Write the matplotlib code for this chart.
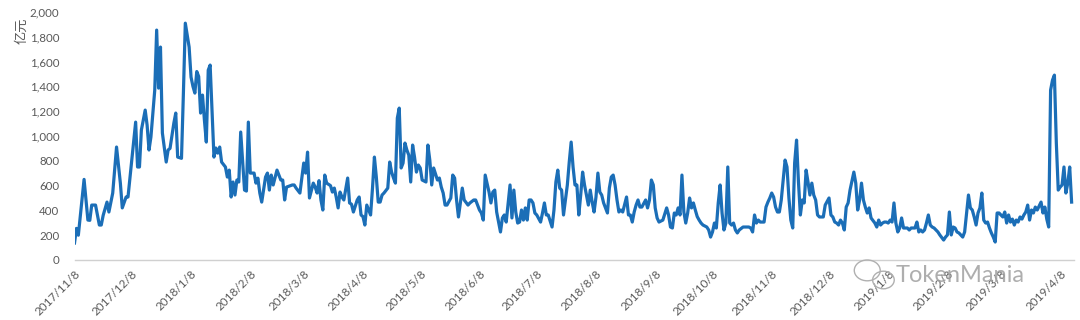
import datetime as dt
import matplotlib
matplotlib.use("Agg")
import matplotlib.pyplot as plt
import matplotlib.dates as mdates
from matplotlib.patches import Ellipse
from matplotlib.ticker import FuncFormatter

plt.rcParams['font.family'] = ['Lato', 'Noto Sans CJK SC', 'DejaVu Sans']

start_date = dt.date(2017, 11, 8)

# day offset from 2017/11/8 and daily trading volume (亿元)
day_offsets = [
    0, 1, 2, 5, 7, 8, 9, 11, 13, 14, 15, 17, 18, 20, 22, 24, 25, 27, 28, 32,
    33, 34, 35, 37, 38, 39, 40, 42, 43, 44, 45, 46, 48, 49, 50, 52, 53, 54, 56, 57,
    58, 60, 61, 62, 63, 64, 65, 66, 67, 68, 69, 70, 71, 72, 73, 74, 75, 76, 77, 79,
    80, 81, 82, 83, 84, 85, 86, 87, 89, 90, 91, 92, 94, 95, 96, 97, 98, 100, 101, 102,
    103, 104, 106, 107, 108, 109, 110, 111, 114, 115, 116, 118, 119, 120, 121, 122, 123, 125, 126, 127,
    128, 129, 130, 131, 132, 134, 135, 136, 137, 138, 139, 140, 141, 143, 144, 145, 146, 148, 149, 150,
    151, 152, 153, 155, 156, 157, 158, 159, 160, 161, 162, 164, 165, 166, 167, 168, 169, 170, 171, 172,
    173, 174, 175, 176, 177, 178, 179, 180, 181, 182, 184, 185, 186, 187, 188, 190, 191, 192, 193, 194,
    195, 197, 198, 199, 200, 201, 202, 203, 204, 206, 207, 209, 210, 211, 212, 213, 214, 215, 217, 218,
    219, 220, 221, 223, 224, 225, 226, 228, 229, 230, 231, 232, 233, 234, 235, 236, 237, 238, 239, 240,
    241, 242, 244, 245, 246, 247, 248, 250, 251, 252, 253, 254, 255, 256, 258, 259, 260, 261, 262, 263,
    264, 265, 266, 267, 269, 270, 271, 272, 273, 274, 275, 276, 277, 279, 280, 281, 282, 283, 284, 285,
    286, 287, 289, 290, 291, 292, 293, 294, 295, 296, 297, 299, 300, 301, 302, 303, 304, 305, 306, 308,
    310, 311, 312, 313, 314, 315, 316, 317, 318, 319, 320, 321, 322, 323, 324, 325, 326, 327, 328, 329,
    331, 332, 333, 334, 335, 336, 337, 338, 339, 340, 341, 342, 343, 344, 345, 346, 347, 348, 350, 351,
    353, 354, 355, 356, 357, 358, 359, 360, 361, 362, 363, 364, 365, 366, 367, 368, 369, 370, 372, 373,
    374, 375, 376, 377, 378, 379, 380, 381, 382, 383, 384, 385, 386, 387, 388, 389, 390, 392, 393, 395,
    396, 397, 398, 399, 400, 401, 402, 403, 404, 405, 406, 408, 409, 410, 411, 412, 413, 414, 415, 416,
    417, 419, 420, 421, 422, 423, 424, 425, 426, 427, 428, 429, 430, 431, 432, 433, 434, 435, 436, 437,
    438, 440, 441, 442, 443, 444, 445, 446, 447, 448, 449, 450, 452, 453, 455, 456, 457, 458, 459, 460,
    461, 462, 463, 465, 466, 467, 468, 469, 470, 471, 472, 473, 474, 475, 476, 477, 478, 479, 480, 481,
    482, 483, 484, 486, 487, 488, 489, 490, 491, 492, 493, 494, 495, 496, 497, 498, 499, 500, 501, 502,
    503, 504, 506, 507, 508, 509, 510, 511, 512, 513, 514, 515, 516, 517, 518, 519, 520, 521, 522,
]
volumes = [
    137, 255, 200, 650, 322, 320, 443, 443, 282, 282, 360, 467, 387, 540, 911, 620, 420, 508, 508, 1112,
    750, 750, 1048, 1209, 1088, 887, 992, 1370, 1854, 1386, 1717, 1024, 790, 887, 900, 1104, 1185, 830, 820, 1346,
    1910, 1717, 1475, 1400, 1346, 1520, 1480, 1185, 1330, 1128, 951, 1531, 1572, 1209, 830, 903, 862, 911, 790, 750,
    669, 725, 508, 629, 524, 645, 629, 1032, 564, 556, 1112, 701, 701, 620, 660, 540, 467, 669, 701, 564,
    685, 605, 725, 685, 645, 645, 484, 588, 605, 605, 580, 540, 661, 782, 701, 870, 500, 620, 588, 540,
    640, 484, 403, 685, 620, 600, 548, 580, 508, 420, 548, 508, 484, 661, 460, 450, 387, 484, 508, 363,
    350, 282, 443, 363, 580, 830, 669, 467, 467, 524, 540, 580, 790, 709, 661, 620, 1145, 1225, 742, 782,
    943, 887, 846, 629, 927, 830, 709, 766, 742, 645, 629, 927, 806, 605, 742, 645, 661, 588, 540, 443,
    443, 500, 685, 661, 484, 347, 460, 580, 484, 443, 460, 484, 484, 443, 403, 379, 322, 685, 548, 460,
    548, 564, 387, 226, 339, 363, 306, 605, 339, 564, 387, 298, 306, 403, 322, 420, 322, 484, 484, 460,
    379, 363, 306, 379, 460, 363, 363, 266, 403, 629, 725, 580, 564, 363, 605, 790, 951, 750, 605, 605,
    363, 524, 709, 605, 443, 564, 467, 387, 508, 701, 548, 524, 460, 379, 580, 669, 685, 605, 484, 387,
    403, 387, 508, 363, 363, 306, 387, 443, 484, 427, 427, 484, 420, 484, 645, 605, 420, 339, 306, 322,
    420, 363, 266, 258, 379, 363, 420, 363, 685, 387, 298, 379, 500, 420, 460, 403, 350, 322, 298, 282,
    266, 242, 185, 226, 298, 258, 460, 605, 379, 242, 298, 750, 298, 282, 298, 242, 218, 242, 266, 266,
    266, 258, 226, 363, 298, 322, 306, 306, 306, 427, 467, 500, 540, 508, 427, 387, 387, 484, 806, 750,
    500, 322, 258, 782, 967, 629, 363, 484, 460, 725, 629, 524, 620, 524, 484, 363, 347, 347, 443, 500,
    363, 347, 306, 298, 282, 322, 298, 242, 427, 460, 564, 709, 620, 403, 484, 620, 484, 427, 379, 420,
    339, 298, 266, 322, 282, 298, 306, 306, 298, 322, 306, 460, 298, 226, 258, 339, 258, 258, 258, 242,
    258, 258, 306, 226, 242, 226, 242, 298, 363, 282, 266, 258, 226, 202, 161, 185, 202, 387, 202, 266,
    258, 226, 218, 185, 226, 379, 524, 420, 403, 347, 282, 379, 420, 540, 322, 298, 306, 258, 218, 185,
    145, 379, 379, 347, 387, 298, 363, 306, 330, 282, 322, 306, 347, 330, 363, 387, 443, 322, 403, 379,
    427, 403, 467, 379, 427, 330, 266, 1370, 1451, 1491, 943, 564, 588, 605, 750, 540, 620, 750, 467,
]

y_ticks = list(range(0, 2001, 200))
tick_dates = [dt.date(2017 + (10 + i) // 12, (10 + i) % 12 + 1, 8) for i in range(18)]
y_label = "亿元"
watermark = "TokenMania"

dates = [start_date + dt.timedelta(days=d) for d in day_offsets]

fig = plt.figure(figsize=(10.8, 3.2), dpi=100)
ax = fig.add_axes([0.069, 0.1875, 0.925, 0.775])
ax.plot(dates, volumes, color='#1B6EB7', lw=2.3, solid_joinstyle='round')

ax.set_ylim(0, 2000)
ax.set_yticks(y_ticks)
ax.yaxis.set_major_formatter(FuncFormatter(lambda v, p: f"{int(v):,}"))
ax.set_xlim(start_date - dt.timedelta(days=0.6), start_date + dt.timedelta(days=523.5))
ax.set_xticks(tick_dates)
ax.xaxis.set_major_formatter(FuncFormatter(
    lambda v, p: (lambda d: f"{d.year}/{d.month}/{d.day}")(mdates.num2date(v))))

for s in ['top', 'right', 'left']:
    ax.spines[s].set_visible(False)
ax.spines['bottom'].set_color('#D0D0D0')
ax.spines['bottom'].set_linewidth(1.0)
ax.tick_params(axis='both', length=0, colors='#595959', labelsize=8.5)
ax.tick_params(axis='y', pad=11, labelsize=8.3)
for lbl in ax.get_xticklabels():
    lbl.set_rotation(45)
    lbl.set_ha('right')
    lbl.set_rotation_mode('anchor')
ax.tick_params(axis='x', pad=6)

fig.text(0.020, 0.945, y_label, rotation=90, ha='center', va='top',
         fontsize=9.5, color='#595959', family=['Noto Sans CJK SC', 'DejaVu Sans'])

# watermark (wechat-style icon + name)
fig.patches.append(Ellipse((0.803, 0.155), 0.024, 0.065, transform=fig.transFigure,
                           fill=False, edgecolor='#B0B0B0', lw=1.0))
fig.patches.append(Ellipse((0.818, 0.125), 0.02, 0.055, transform=fig.transFigure,
                           fill=False, edgecolor='#B0B0B0', lw=1.0))
fig.text(0.829, 0.14, watermark, fontsize=17, color='#A0A0A0', alpha=0.85,
         ha='left', va='center')

fig.savefig("out.png", dpi=100)
